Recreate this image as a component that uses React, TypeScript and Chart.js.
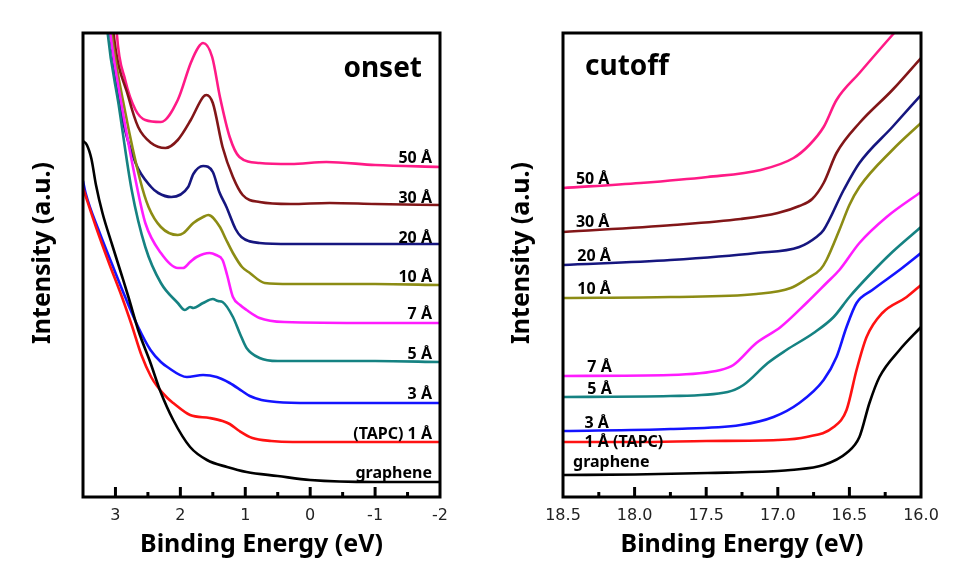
import React, { useEffect, useRef } from "react";
import { Chart, registerables } from "chart.js";

Chart.register(...registerables);

// ---------- shared ----------
const seriesNames = ["graphene", "1 Å", "3 Å", "5 Å", "7 Å", "10 Å", "20 Å", "30 Å", "50 Å"];
const seriesColors = ["#000000", "#FF1212", "#1414FF", "#158282", "#FF1CFF", "#8C8C14", "#16167F", "#821618", "#FF1A86"];

// ---------- onset panel (Binding Energy eV, Intensity a.u.) ----------
const onsetTicks = [3, 2, 1, 0, -1, -2];
const onsetMinorTicks = [2.5, 1.5, 0.5, -0.5, -1.5];
const onsetLabels = ["graphene", "(TAPC) 1 Å", "3 Å", "5 Å", "7 Å", "10 Å", "20 Å", "30 Å", "50 Å"];

const onsetGraphene = [[3.5, 356], [3.44, 352], [3.37, 338], [3.3, 312], [3.2, 284], [3.05, 252], [2.9, 221], [2.8, 200], [2.65, 167], [2.46, 134], [2.31, 106], [2.11, 77], [1.85, 50], [1.59, 37], [1.28, 30], [0.98, 25], [0.5, 21], [0.0, 17], [-1, 15], [-2, 15]];
const onsetOne = [[3.5, 309], [3.3, 270], [3.1, 234], [2.9, 200], [2.75, 172], [2.6, 142], [2.45, 120], [2.36, 111], [2.2, 99], [2.11, 94], [1.85, 82], [1.55, 79], [1.35, 76], [1.24, 73], [1.09, 66], [0.89, 59], [0.6, 56], [0.27, 55], [-1, 55], [-2, 55]];
const onsetThree = [[3.5, 316], [3.46, 304], [3.26, 267], [3.06, 234], [2.85, 200], [2.65, 170], [2.46, 147], [2.3, 135], [2.2, 130], [1.9, 120], [1.65, 122], [1.44, 120], [1.24, 114], [1.05, 106], [0.93, 101], [0.75, 97], [0.52, 95], [0, 94], [-1, 94], [-2, 94]];
const onsetFive = [[3.15, 490], [3.12, 464], [2.95, 392], [2.75, 307], [2.54, 250], [2.3, 214], [2.04, 194], [1.93, 187], [1.85, 190], [1.8, 189], [1.65, 194], [1.5, 198], [1.42, 196], [1.35, 195], [1.19, 180], [1.08, 163], [0.98, 149], [0.78, 139], [0.5, 136], [0, 136], [-1, 136], [-2, 135]];
const onsetSeven = [[3.12, 490], [3.08, 464], [2.9, 390], [2.69, 317], [2.54, 274], [2.3, 244], [2.04, 229], [1.96, 229], [1.85, 235], [1.75, 240], [1.55, 244], [1.45, 242], [1.35, 237], [1.28, 222], [1.19, 200], [1.08, 192], [0.98, 187], [0.78, 179], [0.4, 175], [-1, 174], [-2, 174]];
const onsetTen = [[3.1, 490], [3.06, 464], [2.85, 385], [2.62, 317], [2.49, 290], [2.3, 270], [2.04, 262], [1.95, 264], [1.8, 274], [1.65, 280], [1.57, 282], [1.39, 270], [1.3, 258], [1.19, 244], [1.05, 230], [0.93, 224], [0.7, 214], [0.3, 213], [-1, 213], [-2, 212]];
const onsetTwenty = [[3.12, 490], [3.08, 464], [2.91, 384], [2.69, 334], [2.45, 310], [2.34, 304], [2.14, 300], [1.88, 310], [1.8, 323], [1.65, 331], [1.5, 325], [1.4, 305], [1.29, 290], [1.15, 268], [1.06, 260], [0.78, 254], [0.3, 253], [-1, 253], [-2, 253]];
const onsetThirty = [[3.06, 490], [3.03, 464], [2.8, 400], [2.65, 370], [2.45, 354], [2.23, 349], [2.04, 357], [1.84, 377], [1.65, 400], [1.6, 402], [1.5, 394], [1.35, 350], [1.19, 320], [1.04, 302], [0.78, 295], [0.3, 293], [-0.3, 294], [-1, 293], [-2, 292]];
const onsetFifty = [[3.0, 490], [2.98, 464], [2.85, 417], [2.69, 387], [2.54, 377], [2.3, 375], [2.04, 397], [1.84, 434], [1.72, 450], [1.65, 454], [1.51, 440], [1.39, 400], [1.24, 360], [1.09, 340], [0.78, 334], [0.3, 333], [-0.25, 335], [-1.0, 332], [-2.0, 330]];

// ---------- cutoff panel ----------
const cutoffTicks = [18.5, 18.0, 17.5, 17.0, 16.5, 16.0];
const cutoffMinorTicks = [18.25, 17.75, 17.25, 16.75, 16.25];
const cutoffLabels = ["graphene", "1 Å (TAPC)", "3 Å", "5 Å", "7 Å", "10 Å", "20 Å", "30 Å", "50 Å"];

const cutoffGraphene = [[18.5, 22], [18.0, 22.5], [17.49, 24], [17.0, 26], [16.91, 27], [16.68, 32], [16.52, 44], [16.43, 60], [16.36, 94], [16.29, 120], [16.15, 147], [16.0, 170]];
const cutoffOne = [[18.5, 55], [18.0, 55], [17.5, 56], [17.0, 57], [16.8, 60], [16.61, 70], [16.52, 87], [16.45, 127], [16.38, 160], [16.27, 184], [16.1, 200], [16.0, 212]];
const cutoffThree = [[18.5, 66], [17.75, 68], [17.26, 72], [17.03, 80], [16.85, 94], [16.68, 117], [16.59, 140], [16.52, 170], [16.45, 194], [16.34, 207], [16.15, 227], [16.0, 244]];
const cutoffFive = [[18.5, 100], [17.75, 101], [17.35, 105], [17.24, 112], [17.07, 134], [16.94, 147], [16.75, 164], [16.61, 180], [16.5, 200], [16.36, 222], [16.2, 245], [16.0, 270]];
const cutoffSeven = [[18.5, 121], [17.75, 122], [17.4, 127], [17.31, 132], [17.15, 154], [16.98, 170], [16.8, 194], [16.66, 214], [16.57, 227], [16.43, 254], [16.24, 280], [16.0, 305]];
const cutoffTen = [[18.5, 199], [17.75, 200], [17.15, 203], [16.91, 209], [16.8, 218], [16.7, 228], [16.66, 237], [16.57, 267], [16.5, 292], [16.43, 310], [16.2, 347], [16.0, 374]];
const cutoffTwenty = [[18.5, 232], [17.75, 237], [17.15, 244], [16.85, 250], [16.73, 260], [16.68, 267], [16.54, 307], [16.43, 334], [16.2, 370], [16.0, 402]];
const cutoffThirty = [[18.5, 265], [17.73, 272], [17.26, 278], [17.0, 284], [16.85, 291], [16.76, 298], [16.68, 314], [16.59, 344], [16.43, 374], [16.2, 407], [16.0, 439]];
const cutoffFifty = [[18.5, 309], [17.96, 314], [17.49, 320], [17.12, 327], [16.89, 339], [16.78, 352], [16.68, 370], [16.59, 397], [16.43, 424], [16.2, 462], [16.1, 478]];

const onsetSeries = [onsetGraphene, onsetOne, onsetThree, onsetFive, onsetSeven, onsetTen, onsetTwenty, onsetThirty, onsetFifty];
const cutoffSeries = [cutoffGraphene, cutoffOne, cutoffThree, cutoffFive, cutoffSeven, cutoffTen, cutoffTwenty, cutoffThirty, cutoffFifty];

// label anchors (annotation layout, in data units)
const onsetLabelLevels = [19, 58, 98, 138, 178, 215, 254, 294, 334];
const cutoffLabelLevels = [30, 50, 69, 103, 125, 203, 236, 270, 313];
const cutoffLabelX = [18.43, 18.35, 18.35, 18.33, 18.33, 18.4, 18.4, 18.41, 18.41];

const W = 969;
const H = 576;
const BOLD = "'Noto Sans', 'DejaVu Sans', sans-serif";

const decorPlugin = {
  id: "panelDecor",
  afterDatasetsDraw(chart: any, _args: any, opts: any) {
    const { ctx, chartArea } = chart;
    const xs = chart.scales.x;
    const ys = chart.scales.y;
    const { left, right, top, bottom } = chartArea;
    ctx.save();
    // frame
    ctx.strokeStyle = "#000";
    ctx.lineWidth = 3;
    ctx.strokeRect(left, top, right - left, bottom - top);
    // inward ticks
    for (const v of opts.major) {
      const x = xs.getPixelForValue(v);
      if (x <= left + 2 || x >= right - 2) continue;
      ctx.beginPath();
      ctx.moveTo(x, bottom);
      ctx.lineTo(x, bottom - 10);
      ctx.stroke();
    }
    for (const v of opts.minor) {
      const x = xs.getPixelForValue(v);
      ctx.beginPath();
      ctx.moveTo(x, bottom);
      ctx.lineTo(x, bottom - 5);
      ctx.stroke();
    }
    // y title
    ctx.fillStyle = "#000";
    ctx.font = `bold 25px ${BOLD}`;
    ctx.textAlign = "center";
    ctx.textBaseline = "middle";
    ctx.save();
    ctx.translate(left - opts.yTitleOffset, (top + bottom) / 2 - 12);
    ctx.rotate(-Math.PI / 2);
    ctx.fillText("Intensity (a.u.)", 0, 0);
    ctx.restore();
    // panel title
    ctx.font = `bold 28px ${BOLD}`;
    ctx.textBaseline = "alphabetic";
    if (opts.titleSide === "right") {
      ctx.textAlign = "right";
      ctx.fillText(opts.title, right - 18, top + 44);
    } else {
      ctx.textAlign = "left";
      ctx.fillText(opts.title, left + 22, top + 42);
    }
    // curve labels
    ctx.font = `bold 16px ${BOLD}`;
    opts.labels.forEach((t: string, i: number) => {
      const y = ys.getPixelForValue(opts.levels[i]);
      if (opts.labelX) {
        ctx.textAlign = "left";
        ctx.fillText(t, xs.getPixelForValue(opts.labelX[i]), y);
      } else {
        ctx.textAlign = "right";
        ctx.fillText(t, right - 8, y);
      }
    });
    ctx.restore();
  },
};

function makeConfig(p: any) {
  return {
    type: "line",
    data: {
      datasets: p.series.map((s: number[][], i: number) => ({
        label: seriesNames[i],
        data: s.map(([x, y]) => ({ x, y })),
        borderColor: seriesColors[i],
        backgroundColor: seriesColors[i],
        borderWidth: 2.6,
        pointRadius: 0,
        cubicInterpolationMode: "monotone",
        fill: false,
        clip: 0,
      })),
    },
    options: {
      responsive: false,
      animation: false,
      devicePixelRatio: 1,
      layout: { padding: { left: p.padLeft, right: p.padRight, top: 33, bottom: 0 } },
      plugins: {
        legend: { display: false },
        tooltip: { enabled: false },
        panelDecor: {
          major: p.ticks,
          minor: p.minor,
          title: p.title,
          titleSide: p.titleSide,
          labels: p.labels,
          levels: p.levels,
          labelX: p.labelX,
          yTitleOffset: p.yTitleOffset,
        },
      },
      scales: {
        x: {
          type: "linear",
          reverse: true,
          min: p.min,
          max: p.max,
          grid: { display: false, drawTicks: false },
          border: { display: false },
          afterBuildTicks: (scale: any) => {
            scale.ticks = p.ticks.map((v: number) => ({ value: v }));
          },
          afterFit: (scale: any) => {
            scale.height = 79;
          },
          ticks: {
            padding: 9,
            maxRotation: 0,
            autoSkip: false,
            color: "#222",
            font: { family: "'DejaVu Sans', sans-serif", size: 16 },
            callback: p.fmt,
          },
          title: {
            display: true,
            text: "Binding Energy (eV)",
            color: "#000",
            font: { family: BOLD, size: 25, weight: "bold" },
            padding: { top: 0, bottom: 16 },
          },
        },
        y: {
          type: "linear",
          min: 0,
          max: 464,
          grid: { display: false, drawTicks: false },
          border: { display: false },
          ticks: { display: false },
          afterFit: (scale: any) => {
            scale.width = p.yWidth;
          },
        },
      },
    },
    plugins: [decorPlugin],
  };
}

export default function App() {
  const c1 = useRef<HTMLCanvasElement>(null);
  const c2 = useRef<HTMLCanvasElement>(null);

  useEffect(() => {
    const ch1 = new Chart(c1.current as any, makeConfig({
      series: onsetSeries,
      ticks: onsetTicks,
      minor: onsetMinorTicks,
      min: -2,
      max: 3.5,
      title: "onset",
      titleSide: "right",
      labels: onsetLabels,
      levels: onsetLabelLevels,
      labelX: null,
      padLeft: 0,
      padRight: W - 440,
      yWidth: 83,
      yTitleOffset: 40,
      fmt: (v: any) => String(Number(v)),
    }) as any);
    const ch2 = new Chart(c2.current as any, makeConfig({
      series: cutoffSeries,
      ticks: cutoffTicks,
      minor: cutoffMinorTicks,
      min: 16.0,
      max: 18.5,
      title: "cutoff",
      titleSide: "left",
      labels: cutoffLabels,
      levels: cutoffLabelLevels,
      labelX: cutoffLabelX,
      padLeft: 484,
      padRight: W - 921,
      yWidth: 79,
      yTitleOffset: 41,
      fmt: (v: any) => Number(v).toFixed(1),
    }) as any);
    return () => {
      ch1.destroy();
      ch2.destroy();
    };
  }, []);

  const cs: React.CSSProperties = { position: "absolute", left: 0, top: 0, width: W, height: H };
  return (
    <div style={{ position: "absolute", left: 0, top: 0, width: W, height: H, background: "#fff" }}>
      <canvas ref={c1} width={W} height={H} style={cs} />
      <canvas ref={c2} width={W} height={H} style={cs} />
    </div>
  );
}
